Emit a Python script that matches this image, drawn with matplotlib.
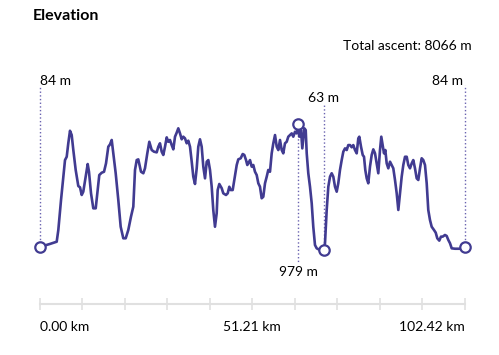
import numpy as np
import matplotlib.pyplot as plt

plt.rcParams['font.family'] = ['Lato', 'DejaVu Sans']

# elevation profile
dist_km = [0.0, 2.53, 3.73, 4.14, 4.53, 5.18, 5.73, 6.14, 6.55, 6.93, 7.34, 7.75, 8.14, 8.71,
           9.34, 9.75, 10.16, 10.54, 11.12, 11.60, 11.91, 12.40, 12.95, 13.53, 14.01, 14.39,
           14.97, 15.53, 16.01, 16.56, 16.97, 17.38, 17.76, 18.34, 18.97, 19.54, 20.17, 20.75,
           21.37, 22.02, 22.58, 22.99, 23.40, 23.78, 24.43, 24.99, 25.39, 25.95, 26.43, 27.01,
           27.56, 28.21, 28.60, 29.00, 29.41, 29.80, 30.21, 30.62, 31.00, 31.41, 31.82, 32.21,
           32.62, 33.02, 33.41, 33.82, 34.23, 34.61, 35.02, 35.43, 35.82, 36.23, 36.64, 37.02,
           37.43, 37.84, 38.22, 38.63, 39.04, 39.43, 39.84, 40.25, 40.63, 41.04, 41.45, 41.83,
           42.24, 42.65, 42.89, 43.28, 43.86, 44.24, 44.89, 45.30, 45.69, 46.02, 46.50, 46.89,
           47.47, 47.85, 48.43, 48.91, 49.30, 49.71, 50.02, 50.26, 50.67, 51.08, 51.46, 51.87,
           52.28, 52.67, 53.07, 53.48, 53.87, 54.28, 54.69, 55.07, 55.48, 55.89, 56.28, 56.69,
           57.10, 57.48, 57.89, 58.30, 58.68, 59.09, 59.50, 59.89, 60.30, 60.71, 61.09, 61.50,
           61.91, 62.29, 62.53, 62.94, 63.26, 63.74, 64.08, 64.32, 64.70, 65.11, 65.52, 65.90,
           66.31, 66.72, 67.28, 67.93, 68.41, 68.72, 69.13, 69.52, 69.93, 70.33, 70.72, 71.13,
           71.54, 71.92, 72.33, 72.74, 73.13, 73.54, 73.95, 74.33, 74.74, 75.15, 75.53, 75.94,
           76.35, 76.74, 76.98, 77.39, 77.80, 78.11, 78.42, 78.76, 79.14, 79.55, 79.96, 80.35,
           80.76, 81.17, 81.55, 81.96, 82.27, 82.61, 82.92, 83.24, 83.57, 83.96, 84.37, 84.78,
           85.16, 85.57, 85.98, 86.37, 86.78, 87.18, 87.57, 87.98, 88.39, 88.77, 89.18, 89.59,
           89.97, 90.38, 90.79, 91.18, 91.59, 91.99, 92.38, 92.79, 93.20, 93.58, 93.99, 94.40,
           94.96, 95.37, 95.75, 96.23, 96.64, 97.05, 97.60, 98.01, 98.40, 98.81, 99.22, 100.01,
           101.22, 102.42]
elev_m = [84, 107, 119, 123, 208, 426, 596, 717, 741, 839, 930, 899, 790, 645,
          528, 519, 463, 487, 596, 688, 632, 475, 366, 366, 499, 608,
          625, 632, 693, 814, 831, 863, 766, 621, 426, 232, 148, 148,
          208, 305, 378, 645, 717, 722, 632, 621, 657, 766, 850, 790,
          778, 773, 814, 839, 778, 754, 814, 882, 850, 863, 826, 795,
          887, 916, 948, 911, 868, 887, 875, 839, 858, 814, 705, 596,
          543, 657, 814, 868, 814, 669, 584, 705, 717, 645, 523, 354,
          232, 330, 499, 543, 512, 475, 463, 475, 523, 499, 499, 572,
          681, 722, 730, 761, 754, 717, 681, 693, 717, 669, 681, 632,
          608, 548, 523, 439, 450, 548, 596, 645, 632, 766, 839, 899,
          814, 790, 863, 790, 766, 839, 850, 887, 899, 911, 887, 923,
          911, 979, 887, 935, 802, 948, 935, 766, 621, 523, 403, 232,
          99, 75, 66, 64, 63, 112, 354, 523, 596, 621, 596, 523,
          487, 548, 645, 717, 778, 802, 790, 826, 826, 810, 826, 790,
          766, 875, 887, 814, 754, 741, 645, 584, 548, 669, 754, 795,
          766, 693, 621, 790, 887, 826, 766, 790, 693, 657, 705, 681,
          657, 572, 475, 354, 475, 596, 681, 741, 741, 681, 657, 693,
          717, 657, 584, 572, 657, 730, 717, 681, 548, 354, 281, 232,
          208, 189, 148, 131, 160, 160, 172, 165, 136, 112, 75, 72,
          72, 84]

tick_km = [0.00, 51.21, 102.42]
total_ascent = 8066

dist_km = np.array(dist_km)
elev_m = np.array(elev_m)
i_max = int(np.argmax(elev_m))
i_min = int(np.argmin(elev_m))

line_col = '#413b91'
dot_col = '#6a63b0'
fs = 10

fig = plt.figure(figsize=(4.99, 3.55), dpi=100)
ax = fig.add_axes([39.5 / 499, 1 - 304 / 355, 425.5 / 499, 219 / 355])

ax.plot(dist_km, elev_m, color=line_col, lw=1.9, solid_joinstyle='round', zorder=3)

# dotted guides + open markers
top = 1263
ax.plot([dist_km[0]] * 2, [elev_m[0], top], ls=':', color=dot_col, lw=1, zorder=2, clip_on=False)
ax.plot([dist_km[-1]] * 2, [elev_m[-1], top], ls=':', color=dot_col, lw=1, zorder=2, clip_on=False)
ax.plot([dist_km[i_min]] * 2, [elev_m[i_min], 1115], ls=':', color=dot_col, lw=1, zorder=2)
ax.plot([dist_km[i_max]] * 2, [elev_m[i_max], -25], ls=':', color=dot_col, lw=1, zorder=2)

for i in [0, i_max, i_min, len(dist_km) - 1]:
    ax.plot(dist_km[i], elev_m[i], 'o', ms=7.5, mfc='white', mec=line_col, mew=1.6,
            zorder=4, clip_on=False)

ax.text(dist_km[0], 1290, f'{elev_m[0]} m', ha='left', va='center', fontsize=fs)
ax.text(dist_km[-1] - 0.4, 1290, f'{elev_m[-1]} m', ha='right', va='center', fontsize=fs)
ax.text(dist_km[i_min], 1168, f'{elev_m[i_min]} m', ha='center', va='center', fontsize=fs)
ax.text(dist_km[i_max], -97, f'{elev_m[i_max]} m', ha='center', va='center', fontsize=fs)

ax.set_xlim(0, tick_km[-1])
ax.set_ylim(-330, top)

for s in ['top', 'right', 'left']:
    ax.spines[s].set_visible(False)
ax.spines['bottom'].set_color('#e0e0e0')
ax.spines['bottom'].set_linewidth(1.5)
ax.set_yticks([])

xt = np.linspace(0, tick_km[-1], 11)
ax.set_xticks(xt)
labels = [''] * 11
labels[0] = f'{tick_km[0]:.2f} km'
labels[5] = f'{tick_km[1]:.2f} km'
labels[10] = f'{tick_km[2]:.2f} km'
ax.set_xticklabels(labels, fontsize=fs)
ax.tick_params(axis='x', direction='inout', length=8, width=1.2, color='#e0e0e0', pad=8)
tl = ax.get_xticklabels()
tl[0].set_ha('left')
tl[10].set_ha('right')

fig.text(33 / 499, 1 - 16 / 355, 'Elevation', fontsize=11.5, fontweight='bold', va='center')
fig.text(472 / 499, 1 - 46 / 355, f'Total ascent: {total_ascent} m', fontsize=fs,
         ha='right', va='center')

fig.savefig('out.png', dpi=100)
